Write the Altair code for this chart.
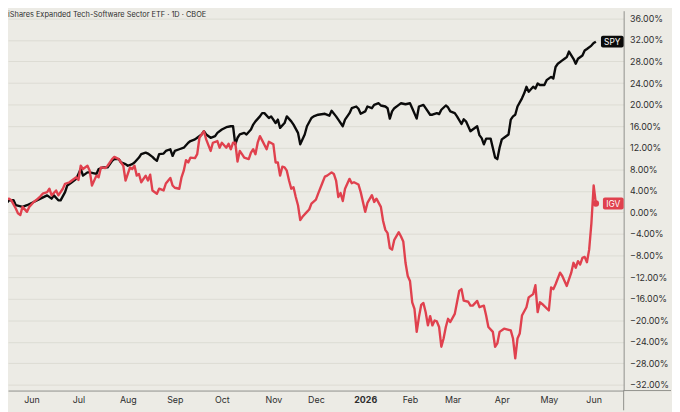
import altair as alt
import pandas as pd

TITLE = "iShares Expanded Tech-Software Sector ETF · 1D · CBOE"

# (trading-day index, % change)
spy = [(0, 0.42), (2, 1.34), (4, 2.26), (6, 2.26), (7, 1.34), (10, 1.03), (12, 1.34), (15, 1.94),
       (18, 2.56), (21, 3.17), (23, 2.56), (24, 3.17), (26, 2.25), (27, 2.25), (29, 3.77), (30, 5.0),
       (32, 5.6), (34, 6.23), (36, 8.06), (37, 6.83), (39, 7.44), (40, 7.44), (43, 7.14), (44, 8.06),
       (46, 8.35), (48, 8.35), (50, 9.58), (51, 9.89), (53, 9.89), (54, 9.27), (56, 8.97), (57, 8.66),
       (59, 8.97), (60, 9.27), (62, 10.18), (63, 10.81), (65, 11.10), (66, 10.92), (68, 10.31), (69, 9.89),
       (70, 9.58), (71, 10.81), (73, 10.92), (74, 11.41), (76, 11.72), (77, 10.49), (78, 11.41), (80, 11.72),
       (82, 12.01), (84, 12.93), (85, 13.24), (87, 13.55), (88, 13.85), (90, 14.47), (91, 15.07), (92, 14.47),
       (94, 13.85), (96, 14.16), (97, 14.76), (99, 15.38), (101, 15.81), (103, 15.99), (104, 15.99), (105, 12.64),
       (106, 13.85), (107, 14.47), (109, 14.76), (110, 14.47), (112, 15.38), (113, 16.30), (114, 16.90), (116, 17.82),
       (117, 18.42), (118, 18.42), (120, 17.51), (121, 17.82), (123, 16.59), (124, 17.22), (125, 15.68), (127, 16.59),
       (128, 17.82), (130, 16.90), (131, 16.30), (133, 14.76), (134, 12.64), (136, 14.47), (137, 15.99), (139, 17.51),
       (140, 17.82), (142, 18.13), (145, 18.30), (147, 17.95), (148, 18.86), (150, 17.82), (151, 17.22), (153, 15.99),
       (154, 17.22), (156, 18.42), (157, 19.34), (159, 19.65), (160, 19.23), (161, 18.32), (163, 18.74), (164, 19.65),
       (166, 19.34), (167, 19.96), (169, 20.26), (170, 19.84), (172, 19.65), (173, 19.34), (174, 17.40), (175, 18.74),
       (176, 19.34), (178, 19.96), (179, 20.26), (181, 20.07), (183, 20.26), (184, 19.34), (186, 17.40), (187, 19.65),
       (189, 19.96), (190, 19.34), (192, 18.13), (193, 18.13), (195, 18.42), (196, 18.24), (197, 19.05), (199, 19.84),
       (200, 19.47), (201, 18.74), (203, 18.42), (204, 17.82), (206, 16.41), (207, 17.27), (208, 16.90), (210, 15.07),
       (211, 15.38), (213, 15.99), (214, 14.34), (215, 13.79), (216, 12.64), (217, 13.70), (219, 13.70), (220, 11.96),
       (221, 10.18), (222, 9.89), (223, 12.01), (224, 13.55), (225, 13.85), (227, 14.47), (228, 17.22), (229, 17.82),
       (230, 18.13), (231, 19.65), (233, 21.17), (234, 22.09), (235, 23.31), (236, 22.40), (238, 23.31), (239, 23.00),
       (240, 23.92), (241, 23.63), (243, 23.63), (244, 24.54), (246, 25.15), (247, 24.84), (248, 26.98), (249, 27.58),
       (251, 28.20), (252, 28.50), (253, 28.81), (254, 29.85), (256, 28.50), (257, 27.58), (258, 28.50), (260, 29.12),
       (261, 30.04), (262, 30.33), (264, 30.95), (265, 31.43), (266, 31.68)]

igv = [(0, 2.25), (1, 2.25), (4, 2.56), (5, 2.25), (7, 0.73), (8, -0.18), (9, -0.49), (10, 1.03), (12, 0.11),
       (13, 1.03), (15, 1.94), (16, 2.25), (18, 2.99), (19, 3.48), (21, 3.77), (22, 4.40), (23, 3.17), (25, 4.08),
       (26, 3.17), (28, 4.40), (29, 5.31), (31, 5.60), (32, 5.92), (34, 6.52), (35, 6.04), (36, 8.66), (37, 8.06),
       (39, 8.66), (40, 7.75), (41, 5.00), (43, 6.83), (44, 6.52), (45, 8.35), (47, 8.24), (48, 8.66), (50, 9.89),
       (51, 10.31), (53, 9.89), (54, 9.27), (55, 8.66), (56, 5.92), (58, 8.35), (59, 8.06), (60, 8.66), (61, 6.83),
       (62, 7.14), (63, 5.60), (65, 6.83), (66, 5.92), (67, 7.01), (68, 4.08), (70, 3.48), (71, 4.40), (73, 4.08),
       (74, 5.37), (76, 6.41), (77, 5.00), (78, 4.58), (80, 4.40), (81, 6.52), (82, 7.75), (83, 9.71), (84, 9.27),
       (85, 10.18), (87, 10.07), (88, 10.81), (89, 13.85), (91, 15.07), (92, 13.55), (94, 11.41), (95, 12.93),
       (97, 13.24), (98, 12.01), (99, 12.93), (101, 12.01), (102, 12.75), (103, 11.72), (104, 12.93), (105, 12.93),
       (106, 9.45), (107, 11.41), (108, 10.81), (109, 10.18), (111, 9.89), (112, 11.10), (113, 11.72), (114, 10.81),
       (115, 12.93), (116, 14.16), (117, 13.37), (119, 11.72), (120, 13.11), (122, 12.64), (123, 9.27), (124, 9.27),
       (125, 6.83), (126, 8.48), (127, 8.35), (128, 7.75), (129, 5.92), (130, 4.40), (131, 4.69), (132, 2.86),
       (133, 1.34), (134, -1.41), (135, -0.81), (137, 0.11), (138, 0.55), (139, 1.65), (141, 2.38), (142, 3.48),
       (144, 5.60), (145, 6.65), (146, 6.83), (148, 7.44), (149, 7.14), (150, 5.92), (151, 2.86), (152, 3.59),
       (153, 2.12), (154, 4.40), (156, 6.23), (157, 5.42), (158, 5.60), (160, 5.18), (161, 3.77), (163, 0.11),
       (164, 1.76), (166, 3.20), (167, 1.94), (168, 2.56), (170, 1.03), (171, -1.59), (172, -3.24), (173, -3.85),
       (174, -6.59), (175, -6.90), (176, -5.07), (178, -3.66), (179, -4.47), (180, -5.38), (181, -9.34),
       (182, -11.79), (183, -12.71), (184, -16.67), (185, -17.89), (186, -22.16), (187, -19.41), (188, -17.16),
       (189, -16.79), (190, -18.50), (191, -20.95), (192, -19.23), (193, -20.95), (194, -20.04), (195, -20.22),
       (196, -21.25), (197, -24.91), (198, -23.39), (199, -21.25), (200, -19.73), (201, -20.33), (203, -18.81),
       (204, -16.67), (205, -14.54), (206, -14.22), (207, -16.37), (209, -16.56), (210, -17.29), (211, -17.29),
       (213, -16.41), (214, -17.58), (216, -17.29), (217, -19.12), (218, -21.25), (220, -22.16), (221, -24.91),
       (222, -24.30), (223, -22.16), (225, -21.56), (228, -21.87), (229, -23.39), (230, -27.05), (231, -23.39),
       (232, -22.47), (233, -19.12), (235, -17.58), (236, -15.75), (238, -15.15), (239, -13.50), (240, -18.50),
       (241, -16.67), (242, -16.97), (245, -18.19), (246, -13.92), (247, -14.23), (248, -13.32), (250, -11.17),
       (251, -11.79), (253, -13.63), (255, -11.17), (256, -9.34), (257, -10.26), (258, -9.05), (259, -9.65),
       (260, -8.42), (261, -8.24), (262, -9.23), (263, -6.90), (264, -2.00), (265, 5.00), (266, 1.65)]

month_days = [14, 35, 57, 78, 99, 122, 141, 163, 183, 202, 224, 245, 265]
month_labels = ["Jun", "Jul", "Aug", "Sep", "Oct", "Nov", "Dec", "2026", "Feb", "Mar", "Apr", "May", "Jun"]
y_ticks = list(range(-32, 37, 4))

X_DOMAIN = [3.52, 278.4]
Y_DOMAIN = [-33.04, 37.42]
W, H = 624, 385

BG = "#ecebe5"
GRID = "#dcdbd3"
AXC = "#8f8f8b"
TXT = "#2e2e2e"
RED = "#e0414e"
BLACK = "#0b0b0b"
FONT = "Inter"

spy_df = pd.DataFrame(spy, columns=["day", "pct"])
igv_df = pd.DataFrame(igv, columns=["day", "pct"])
labels_df = pd.DataFrame({
    "name": ["SPY", "IGV"],
    "pct": [spy[-1][1], igv[-1][1]],
})

x_scale = alt.Scale(domain=X_DOMAIN, nice=False, zero=False)
y_scale = alt.Scale(domain=Y_DOMAIN, nice=False, zero=False)

x_label_expr = ("[" + ",".join(f"'{m}'" for m in month_labels) + "][indexof(["
                + ",".join(str(d) for d in month_days) + "], datum.value)]")

x_axis = alt.Axis(values=month_days, labelExpr=x_label_expr, grid=False, ticks=False, tickSize=0,
                  domain=True, domainColor=AXC, domainWidth=1, labelPadding=5, labelFont=FONT,
                  labelFontSize=9, labelColor=TXT, labelOverlap=False, labelFlush=False, title=None,
                  labelFontWeight={"condition": {"test": "datum.value === 163", "value": "bold"},
                                   "value": "normal"})
y_axis = alt.Axis(orient="right", values=y_ticks, labelExpr="format(datum.value, '.2f') + '%'",
                  grid=True, gridColor=GRID, gridWidth=1, ticks=False, tickSize=0, domain=True,
                  domainColor=AXC, domainWidth=1, labelPadding=6, labelFont=FONT, labelFontSize=9,
                  labelColor=TXT, labelOverlap=False, labelFlush=False, title=None)

X = alt.X("day:Q", scale=x_scale, axis=x_axis)
Y = alt.Y("pct:Q", scale=y_scale, axis=y_axis)

spy_line = alt.Chart(spy_df).mark_line(color=BLACK, strokeWidth=2.4, clip=True,
                                       strokeJoin="round").encode(x=X, y=Y)
igv_line = alt.Chart(igv_df).mark_line(color=RED, strokeWidth=2.4, clip=True,
                                       strokeJoin="round").encode(x=X, y=Y)
igv_dot = alt.Chart(igv_df.tail(1)).mark_circle(color=RED, size=42, opacity=1).encode(x=X, y=Y)

lab = alt.Chart(labels_df).transform_calculate(
    hi="datum.pct + 1.1", lo="datum.pct - 1.1")
spy_box = lab.transform_filter("datum.name == 'SPY'").mark_rect(
    color=BLACK, cornerRadius=2).encode(
    x=alt.value(W - 23), x2=alt.value(W),
    y=alt.Y("hi:Q", scale=y_scale, axis=y_axis), y2="lo:Q")
igv_box = lab.transform_filter("datum.name == 'IGV'").mark_rect(
    color=RED, cornerRadius=2).encode(
    x=alt.value(W - 21), x2=alt.value(W),
    y=alt.Y("hi:Q", scale=y_scale, axis=y_axis), y2="lo:Q")
spy_txt = lab.transform_filter("datum.name == 'SPY'").mark_text(
    color="white", font=FONT, fontSize=8.5, align="center", baseline="middle").encode(
    x=alt.value(W - 11.5), y=Y, text="name:N")
igv_txt = lab.transform_filter("datum.name == 'IGV'").mark_text(
    color="white", font=FONT, fontSize=8.5, align="center", baseline="middle").encode(
    x=alt.value(W - 10.5), y=Y, text="name:N")

dummy = pd.DataFrame({"a": [0]})
title_txt = alt.Chart(dummy).mark_text(
    text=TITLE, color=TXT, font=FONT, fontSize=7.5, align="left", baseline="alphabetic").encode(
    x=alt.value(0), y=alt.value(6))
vline_ext = alt.Chart(dummy).mark_rule(color=AXC, strokeWidth=1).encode(
    x=alt.value(W), y=alt.value(H), y2=alt.value(H + 20))
hline_ext = alt.Chart(dummy).mark_rule(color=AXC, strokeWidth=1).encode(
    x=alt.value(W), x2=alt.value(W + 48), y=alt.value(H))

chart = alt.layer(
    spy_line, igv_line, igv_dot, spy_box, igv_box, spy_txt, igv_txt,
    title_txt, vline_ext, hline_ext
).properties(
    width=W, height=H, padding=0, background=BG
).configure_view(stroke=None)

chart.save("out.html", embed_options={"renderer": "svg", "actions": False})
